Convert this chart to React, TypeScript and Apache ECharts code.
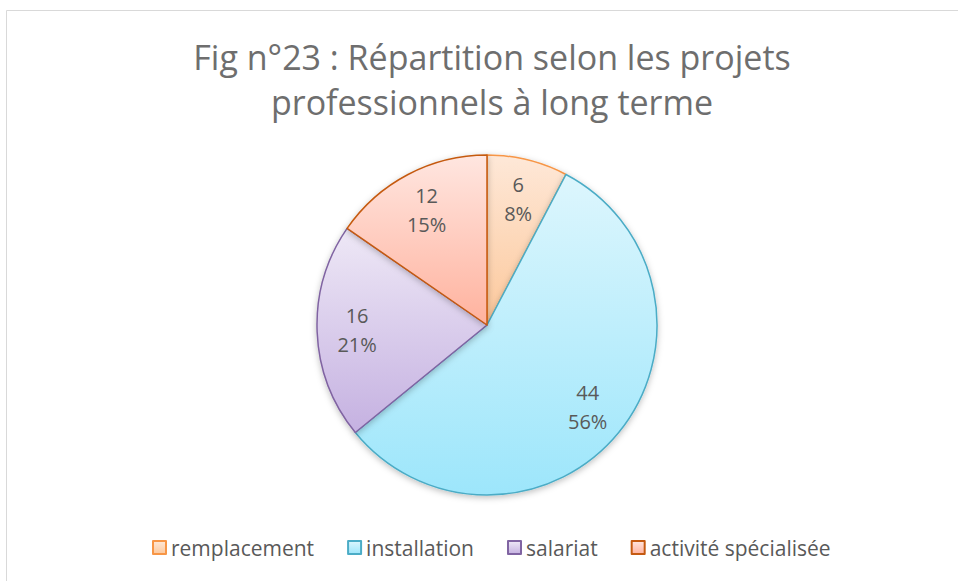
import React, { useEffect, useRef } from "react";
import * as echarts from "echarts";

const categories = ["remplacement", "installation", "salariat", "activité spécialisée"];
const values = [6, 44, 16, 12];
const percentLabels = ["8%", "56%", "21%", "15%"];
const titleText = "Fig n°23 : Répartition selon les projets\nprofessionnels à long terme";

const topColors = ["#FEE8D8", "#DDF6FD", "#EEE8F6", "#FFE6E0"];
const bottomColors = ["#FCC89B", "#9DE6FB", "#C5B1E1", "#FFB29E"];
const borderColors = ["#F79646", "#4BACC6", "#8064A2", "#C55A11"];

const FONT = "'Open Sans', sans-serif";

export default function App() {
  const ref = useRef<HTMLDivElement>(null);
  useEffect(() => {
    if (!ref.current) return;
    const chart = echarts.init(ref.current, undefined, { renderer: "svg" });
    const grad = (i: number) =>
      new echarts.graphic.LinearGradient(0, 0, 0, 1, [
        { offset: 0, color: topColors[i] },
        { offset: 1, color: bottomColors[i] },
      ]);
    const mainData = categories.map((name, i) => ({
      name,
      value: values[i],
      itemStyle: { color: grad(i), borderColor: borderColors[i], borderWidth: 1.5 },
    }));
    const labelData = categories.map((name, i) => ({
      name,
      value: values[i],
      pct: percentLabels[i],
    }));
    chart.setOption({
      animation: false,
      backgroundColor: "#ffffff",
      title: {
        text: titleText,
        left: 487,
        top: 29,
        textAlign: "center",
        textStyle: {
          fontFamily: FONT,
          fontSize: 34,
          fontWeight: "normal",
          color: "#6e6e6e",
          lineHeight: 45,
        },
      },
      legend: {
        data: categories,
        bottom: 18,
        left: 147,
        itemWidth: 13,
        itemHeight: 13,
        itemGap: 33,
        icon: "rect",
        textStyle: { fontFamily: FONT, fontSize: 21, color: "#595959" },
      },
      graphic: [
        { type: "line", shape: { x1: 6.5, y1: 10.5, x2: 958, y2: 10.5 }, style: { stroke: "#d9d9d9", lineWidth: 1 } },
        { type: "line", shape: { x1: 6.5, y1: 10.5, x2: 6.5, y2: 581 }, style: { stroke: "#d9d9d9", lineWidth: 1 } },
      ],
      series: [
        {
          type: "pie",
          name: "main",
          center: [487, 325],
          radius: [0, 170],
          startAngle: 90,
          clockwise: true,
          label: { show: false },
          labelLine: { show: false },
          emphasis: { disabled: true },
          itemStyle: { shadowBlur: 6, shadowColor: "rgba(0,0,0,0.25)", shadowOffsetY: 2 },
          data: mainData,
        },
        {
          type: "pie",
          name: "labels",
          center: [487, 325],
          radius: [84, 170],
          startAngle: 90,
          clockwise: true,
          silent: true,
          itemStyle: { color: "rgba(0,0,0,0)", borderWidth: 0 },
          label: {
            show: true,
            position: "inside",
            fontFamily: FONT,
            fontSize: 20,
            color: "#595959",
            lineHeight: 29,
            formatter: (p: any) => `${p.value}\n${p.data.pct}`,
          },
          labelLine: { show: false },
          emphasis: { disabled: true },
          data: labelData,
        },
      ],
    });
    return () => chart.dispose();
  }, []);
  return <div ref={ref} style={{ width: 958, height: 581, position: "absolute", left: 0, top: 0 }} />;
}
